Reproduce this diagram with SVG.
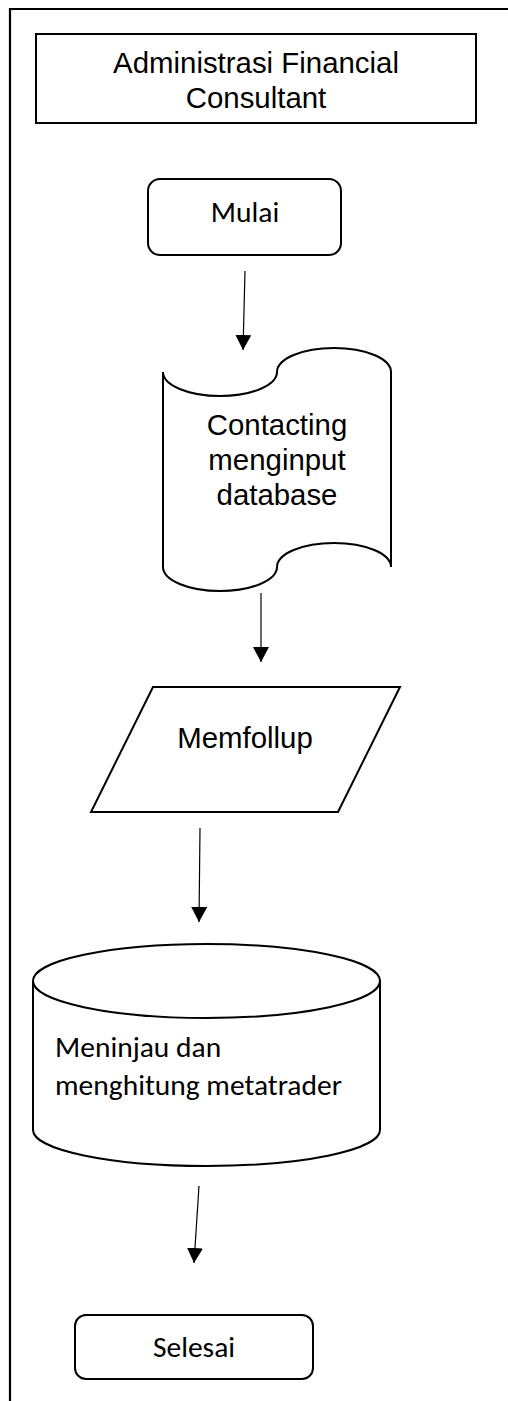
<svg xmlns="http://www.w3.org/2000/svg" width="508" height="1401" viewBox="0 0 508 1401">
<style>
.shape{fill:#fff;stroke:#000;stroke-width:2}
.conn{stroke:#000;stroke-width:1.2;fill:none}
.arial{font-family:"Liberation Sans",Arial,sans-serif;font-size:29.4px;fill:#000}
.cal{font-family:Carlito,Lato,"Liberation Sans",sans-serif;font-size:29.5px;fill:#000}
</style>
<defs>
<marker id="arrow" markerUnits="userSpaceOnUse" markerWidth="15" markerHeight="16" refX="15" refY="8" orient="auto" viewBox="0 0 15 16">
<path d="M0,0 L15,8 L0,16 Z" fill="#000"/>
</marker>
</defs>
<rect width="508" height="1401" fill="#fff"/>
<g id="frame">
<line x1="9" y1="9" x2="508" y2="9" stroke="#000" stroke-width="2.2"/>
<line x1="10" y1="8" x2="10" y2="1401" stroke="#000" stroke-width="2.2"/>
</g>
<g id="title">
<rect class="shape" x="36" y="34" width="440" height="89"/>
<text class="arial" x="256" y="73" text-anchor="middle">Administrasi Financial</text>
<text class="arial" x="256" y="108" text-anchor="middle">Consultant</text>
</g>
<g id="mulai">
<rect class="shape" x="148" y="179" width="193" height="76" rx="12"/>
<text class="cal" x="245" y="222" text-anchor="middle">Mulai</text>
</g>
<g id="contacting">
<path class="shape" d="M163,372 A57,24 0 0 0 277,372 A57,24 0 0 1 391,372 L391,567 A57,24 0 0 0 277,567 A57,24 0 0 1 163,567 Z"/>
<text class="arial" x="277" y="435" text-anchor="middle">Contacting</text>
<text class="arial" x="277" y="470" text-anchor="middle">menginput</text>
<text class="arial" x="277" y="505" text-anchor="middle">database</text>
</g>
<g id="memfollup">
<polygon class="shape" points="153,687 400,687 338,812 91,812"/>
<text class="arial" x="245" y="748" text-anchor="middle">Memfollup</text>
</g>
<g id="meninjau">
<path class="shape" d="M33,981 L33,1130 A173.5,36 0 0 0 380,1130 L380,981 Z"/>
<ellipse class="shape" cx="206.5" cy="981" rx="173.5" ry="37"/>
<text class="cal" x="55" y="1057">Meninjau dan</text>
<text class="cal" x="55" y="1095">menghitung metatrader</text>
</g>
<g id="selesai">
<rect class="shape" x="75" y="1315" width="238" height="64" rx="11"/>
<text class="cal" x="194" y="1357" text-anchor="middle">Selesai</text>
</g>
<g id="connectors">
<line class="conn" x1="245" y1="271" x2="243" y2="350" marker-end="url(#arrow)"/>
<line class="conn" x1="261" y1="593" x2="261" y2="662" marker-end="url(#arrow)"/>
<line class="conn" x1="200" y1="828" x2="199" y2="922" marker-end="url(#arrow)"/>
<line class="conn" x1="199" y1="1186" x2="194" y2="1263" marker-end="url(#arrow)"/>
</g>
</svg>
